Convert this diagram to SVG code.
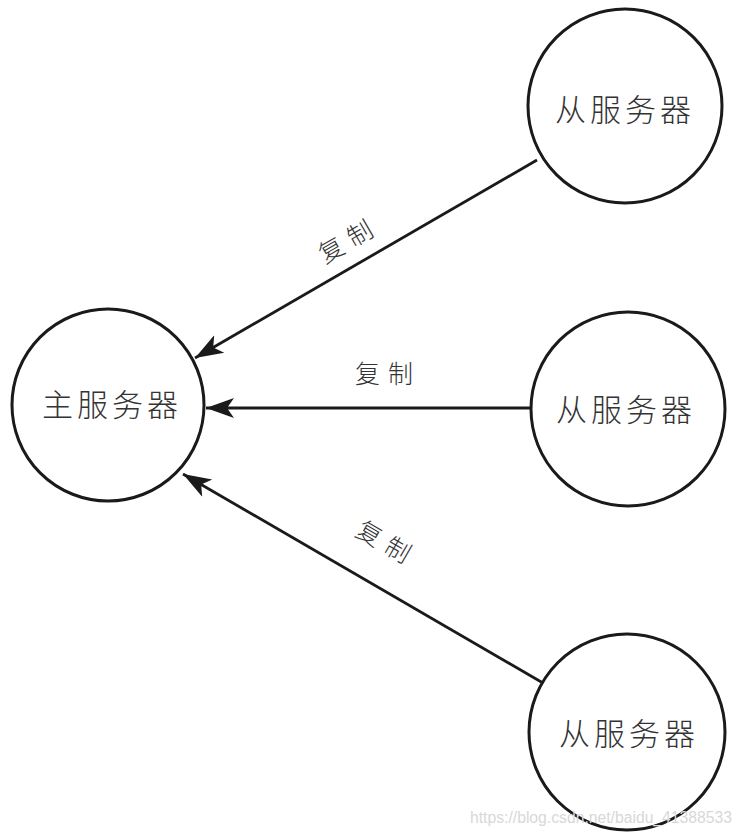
<svg xmlns="http://www.w3.org/2000/svg" width="744" height="837" viewBox="0 0 744 837">
<style>
.node circle{fill:#fff;stroke:#1a1a1a;stroke-width:3}
.node text{font-family:"Noto Sans CJK SC","Noto Sans",sans-serif;font-size:31px;font-weight:300;fill:#333;text-anchor:middle;dominant-baseline:central;letter-spacing:4px}
.edge{stroke:#1a1a1a;stroke-width:2.8;fill:none;marker-end:url(#arr)}
.lbl{font-family:"Noto Sans CJK SC","Noto Sans",sans-serif;font-size:25px;font-weight:300;fill:#333;text-anchor:middle;dominant-baseline:central;letter-spacing:8px}
.wm{font-family:"Liberation Sans",Arial,sans-serif;font-size:16px;fill:#d8d8d8}
</style>
<defs>
<marker id="arr" markerWidth="30" markerHeight="22" refX="28" refY="11" orient="auto" markerUnits="userSpaceOnUse">
<path d="M0,1 L28,11 L0,21 L7,11 z" fill="#1a1a1a"/>
</marker>
</defs>
<rect width="744" height="837" fill="#fff"/>
<g id="connectors">
<line class="edge" x1="537" y1="160" x2="195" y2="358"/>
<line class="edge" x1="532" y1="408" x2="206" y2="408"/>
<line class="edge" x1="543" y1="683" x2="183" y2="474"/>
<text class="lbl" transform="translate(348,238) rotate(-30)">复制</text>
<text class="lbl" transform="translate(388,372)">复制</text>
<text class="lbl" transform="translate(388,542) rotate(30)">复制</text>
</g>
<g id="master" class="node">
<circle cx="108" cy="405" r="96"/>
<text x="112" y="402">主服务器</text>
</g>
<g id="slave1" class="node">
<circle cx="625" cy="106" r="97"/>
<text x="625" y="107">从服务器</text>
</g>
<g id="slave2" class="node">
<circle cx="628" cy="409" r="97"/>
<text x="626" y="407">从服务器</text>
</g>
<g id="slave3" class="node">
<circle cx="627" cy="732" r="98"/>
<text x="629" y="731">从服务器</text>
</g>
<text class="wm" x="470" y="823" textLength="262" lengthAdjust="spacingAndGlyphs">https://blog.csdn.net/baidu_41388533</text>
</svg>
